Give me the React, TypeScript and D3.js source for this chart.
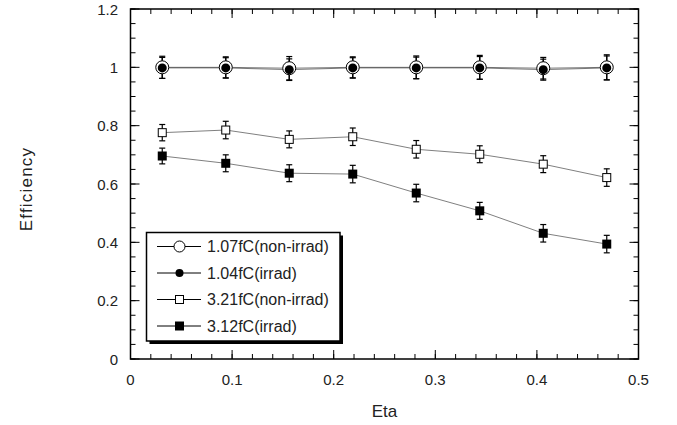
import React from 'react';
import * as d3 from 'd3';

const etaValues = [0.03125, 0.09375, 0.15625, 0.21875, 0.28125, 0.34375, 0.40625, 0.46875];
const eff107 = [1.0, 1.0, 0.997, 1.0, 1.0, 1.0, 0.997, 1.0];
const err107 = [0.038, 0.036, 0.04, 0.036, 0.039, 0.041, 0.037, 0.043];
const eff104 = [0.998, 0.998, 0.992, 0.998, 0.998, 0.998, 0.992, 0.998];
const err104 = [0.036, 0.035, 0.037, 0.035, 0.037, 0.039, 0.036, 0.041];
const eff321 = [0.776, 0.785, 0.753, 0.762, 0.719, 0.702, 0.668, 0.622];
const err321 = [0.028, 0.03, 0.029, 0.03, 0.03, 0.029, 0.029, 0.03];
const eff312 = [0.696, 0.671, 0.637, 0.634, 0.569, 0.508, 0.431, 0.394];
const err312 = [0.027, 0.029, 0.029, 0.03, 0.03, 0.029, 0.03, 0.03];

const legendLabels = ['1.07fC(non-irrad)', '1.04fC(irrad)', '3.21fC(non-irrad)', '3.12fC(irrad)'];
const xTicks = [0, 0.1, 0.2, 0.3, 0.4, 0.5];
const yTicks = [0, 0.2, 0.4, 0.6, 0.8, 1, 1.2];

const W = 677, H = 425;
const L = 130.5, R = 638.5, T = 9, B = 359;
const FONT = "Arial, 'Liberation Sans', Helvetica, sans-serif";

type Series = { vals: number[]; errs: number[]; marker: 'oc' | 'fc' | 'os' | 'fs' };
const series: Series[] = [
  { vals: eff107, errs: err107, marker: 'oc' },
  { vals: eff104, errs: err104, marker: 'fc' },
  { vals: eff321, errs: err321, marker: 'os' },
  { vals: eff312, errs: err312, marker: 'fs' },
];

function Marker({ kind, x, y, legend }: { kind: string; x: number; y: number; legend?: boolean }) {
  if (kind === 'oc') return <circle cx={x} cy={y} r={legend ? 5.5 : 6.5} fill="#fff" stroke="#000" strokeWidth={1} />;
  if (kind === 'fc') return <circle cx={x} cy={y} r={legend ? 4 : 4.5} fill="#000" />;
  if (kind === 'os') return <rect x={x - 4} y={y - 4} width={8} height={8} fill="#fff" stroke="#000" strokeWidth={1} />;
  return <rect x={x - 4.5} y={y - 4.5} width={9} height={9} fill="#000" />;
}

export default function App() {
  const x = d3.scaleLinear().domain([0, 0.5]).range([L, R]);
  const y = d3.scaleLinear().domain([0, 1.2]).range([B, T]);
  const line = d3.line<number>().x((_, i) => x(etaValues[i])).y(d => y(d));

  const xMinor = d3.range(0, 0.5001, 0.02);
  const yMinor = d3.range(0, 1.2001, 0.05);

  const legX = 146.5, legY = 232.5, legW = 193.5, legH = 108.5;
  const rowY = [246.5, 273, 299.5, 326];

  return (
    <svg width={W} height={H} style={{ position: 'absolute', left: 0, top: 0, background: '#fff' }} fontFamily={FONT}>
      <rect x={0} y={0} width={W} height={H} fill="#fff" />
      {xMinor.map((v, i) => (
        <g key={'xm' + i} stroke="#000" strokeWidth={1}>
          <line x1={x(v)} x2={x(v)} y1={B} y2={B - 5} />
          <line x1={x(v)} x2={x(v)} y1={T} y2={T + 5} />
        </g>
      ))}
      {yMinor.map((v, i) => (
        <g key={'ym' + i} stroke="#000" strokeWidth={1}>
          <line x1={L} x2={L + 5} y1={y(v)} y2={y(v)} />
          <line x1={R} x2={R - 5} y1={y(v)} y2={y(v)} />
        </g>
      ))}
      {xTicks.map((v, i) => (
        <g key={'xt' + i}>
          <line x1={x(v)} x2={x(v)} y1={B} y2={B - 9} stroke="#000" />
          <line x1={x(v)} x2={x(v)} y1={T} y2={T + 9} stroke="#000" />
          <text x={x(v)} y={384.5} textAnchor="middle" fontSize={15} fill="#222">{d3.format('')(v)}</text>
        </g>
      ))}
      {yTicks.map((v, i) => (
        <g key={'yt' + i}>
          <line x1={L} x2={L + 9} y1={y(v)} y2={y(v)} stroke="#000" />
          <line x1={R} x2={R - 9} y1={y(v)} y2={y(v)} stroke="#000" />
          <text x={118} y={y(v) + 5.5} textAnchor="end" fontSize={15} fill="#222">{d3.format('')(v)}</text>
        </g>
      ))}
      <rect x={L} y={T} width={R - L} height={B - T} fill="none" stroke="#000" strokeWidth={1.5} />

      {series.map((s, si) => (
        <path key={'l' + si} d={line(s.vals) || ''} fill="none" stroke="#000" strokeOpacity={0.5} strokeWidth={1} />
      ))}
      {series.map((s, si) => (
        <g key={'e' + si} stroke="#000" strokeWidth={1.2}>
          {s.vals.map((v, i) => {
            const cx = x(etaValues[i]);
            const y1 = y(v + s.errs[i]), y2 = y(v - s.errs[i]);
            return (
              <g key={i}>
                <line x1={cx} x2={cx} y1={y1} y2={y2} />
                <line x1={cx - 3} x2={cx + 3} y1={y1} y2={y1} />
                <line x1={cx - 3} x2={cx + 3} y1={y2} y2={y2} />
              </g>
            );
          })}
        </g>
      ))}
      {series.map((s, si) => (
        <g key={'m' + si}>
          {s.vals.map((v, i) => <Marker key={i} kind={s.marker} x={x(etaValues[i])} y={y(v)} />)}
        </g>
      ))}

      <rect x={legX + 3} y={legY + 3} width={legW} height={legH} fill="#000" />
      <rect x={legX} y={legY} width={legW} height={legH} fill="#fff" stroke="#000" strokeWidth={1.5} />
      {series.map((s, si) => (
        <g key={'lg' + si}>
          <line x1={157} x2={201} y1={rowY[si]} y2={rowY[si]} stroke="#000" strokeWidth={1} />
          <Marker kind={s.marker} x={179.5} y={rowY[si]} legend />
          <text x={207} y={rowY[si] + 5.5} fontSize={16} fill="#222">{legendLabels[si]}</text>
        </g>
      ))}

      <text x={(L + R) / 2} y={417} textAnchor="middle" fontSize={17} fill="#222">Eta</text>
      <text transform={`translate(32, ${(T + B) / 2 + 5}) rotate(-90)`} textAnchor="middle" fontSize={17} letterSpacing={1.2} fill="#222">Efficiency</text>
    </svg>
  );
}
